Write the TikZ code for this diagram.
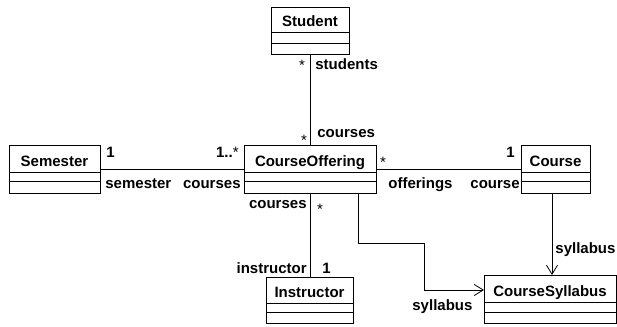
\documentclass[tikz,border=0pt]{standalone}
\usepackage{fontspec}
\setmainfont{Liberation Sans}
\usetikzlibrary{arrows.meta}
\newcommand{\umlclass}[8]{%
  \node[classbox, minimum width={(#4-#2)*1pt}, minimum height={(#5-#3)*1pt}] (#1) at ({(#2+#4)/2},{(#3+#5)/2}) {};
  \draw (#2,#6) -- (#4,#6);
  \draw (#2,#7) -- (#4,#7);
  \node[titletext, anchor=base] (#1-title) at ({(#2+#4)/2},{#6-5.5}) {#8};
}
\begin{document}
\begin{tikzpicture}[x=1pt,y=-1pt, line width=0.8pt,
  classbox/.style={draw, rectangle, inner sep=0pt, outer sep=0pt},
  titletext/.style={font=\bfseries\fontsize{15}{18}\selectfont, inner sep=0pt},
  lbl/.style={font=\bfseries\fontsize{15}{18}\selectfont, inner sep=0pt},
  star/.style={font=\fontsize{15}{18}\selectfont, inner sep=0pt},
  nav/.style={-{Straight Barb[length=9pt,width=11pt,line width=0.8pt]}}]
\useasboundingbox (0,0) rectangle (617,326);

\umlclass{student}{271}{7}{349}{54}{32}{43}{Student}
\umlclass{semester}{9}{145}{100}{193}{172}{181}{Semester}
\umlclass{offering}{244}{145}{376}{193}{172}{181}{CourseOffering}
\umlclass{course}{521}{145}{590}{193}{172}{181}{Course}
\umlclass{instructor}{266}{277}{353}{323}{303}{312}{Instructor}
\umlclass{syllabus}{484}{275}{616}{323}{302}{312}{CourseSyllabus}

% associations
\draw (student.south) -- (student.south |- offering.north);
\draw (semester.east) -- (offering.west);
\draw (offering.east) -- (course.west);
\draw (offering.south) -- (offering.south |- instructor.north);
\coordinate (b1) at (358,243);
\coordinate (b2) at (424,243);
\coordinate (b3) at (424,290);
\draw[nav] ([xshift=48pt]offering.south) -- (b1) -- (b2) -- (b3) -- (b3 -| syllabus.west);
\draw[nav] ([xshift=-3.5pt]course.south) -- ([xshift=-3.5pt]course.south |- syllabus.north);

% labels
\node[star, anchor=base] (l1) at (302,71) {*};
\node[lbl, anchor=base west] (l2) at (315,70) {students};
\node[star, anchor=base] (l3) at (304,145) {*};
\node[lbl, anchor=base west] (l4) at (317,137) {courses};
\node[lbl, anchor=base west] (l5) at (106,157) {1};
\node[lbl, anchor=base east] (l6) at (239,157) {1..\mdseries*};
\node[lbl, anchor=base west] (l7) at (105,188) {semester};
\node[lbl, anchor=base east] (l8) at (241,188) {courses};
\node[star, anchor=base] (l9) at (383,167) {*};
\node[lbl, anchor=base east] (l10) at (515,157) {1};
\node[lbl, anchor=base west] (l11) at (388,188) {offerings};
\node[lbl, anchor=base east] (l12) at (520,188) {course};
\node[lbl, anchor=base east] (l13) at (307,208) {courses};
\node[star, anchor=base] (l14) at (320,214) {*};
\node[lbl, anchor=base east] (l15) at (307,273) {instructor};
\node[lbl, anchor=base west] (l16) at (322,273) {1};
\node[lbl, anchor=base west] (l17) at (555,253) {syllabus};
\node[lbl, anchor=base west] (l18) at (412,310) {syllabus};
\end{tikzpicture}
\end{document}
